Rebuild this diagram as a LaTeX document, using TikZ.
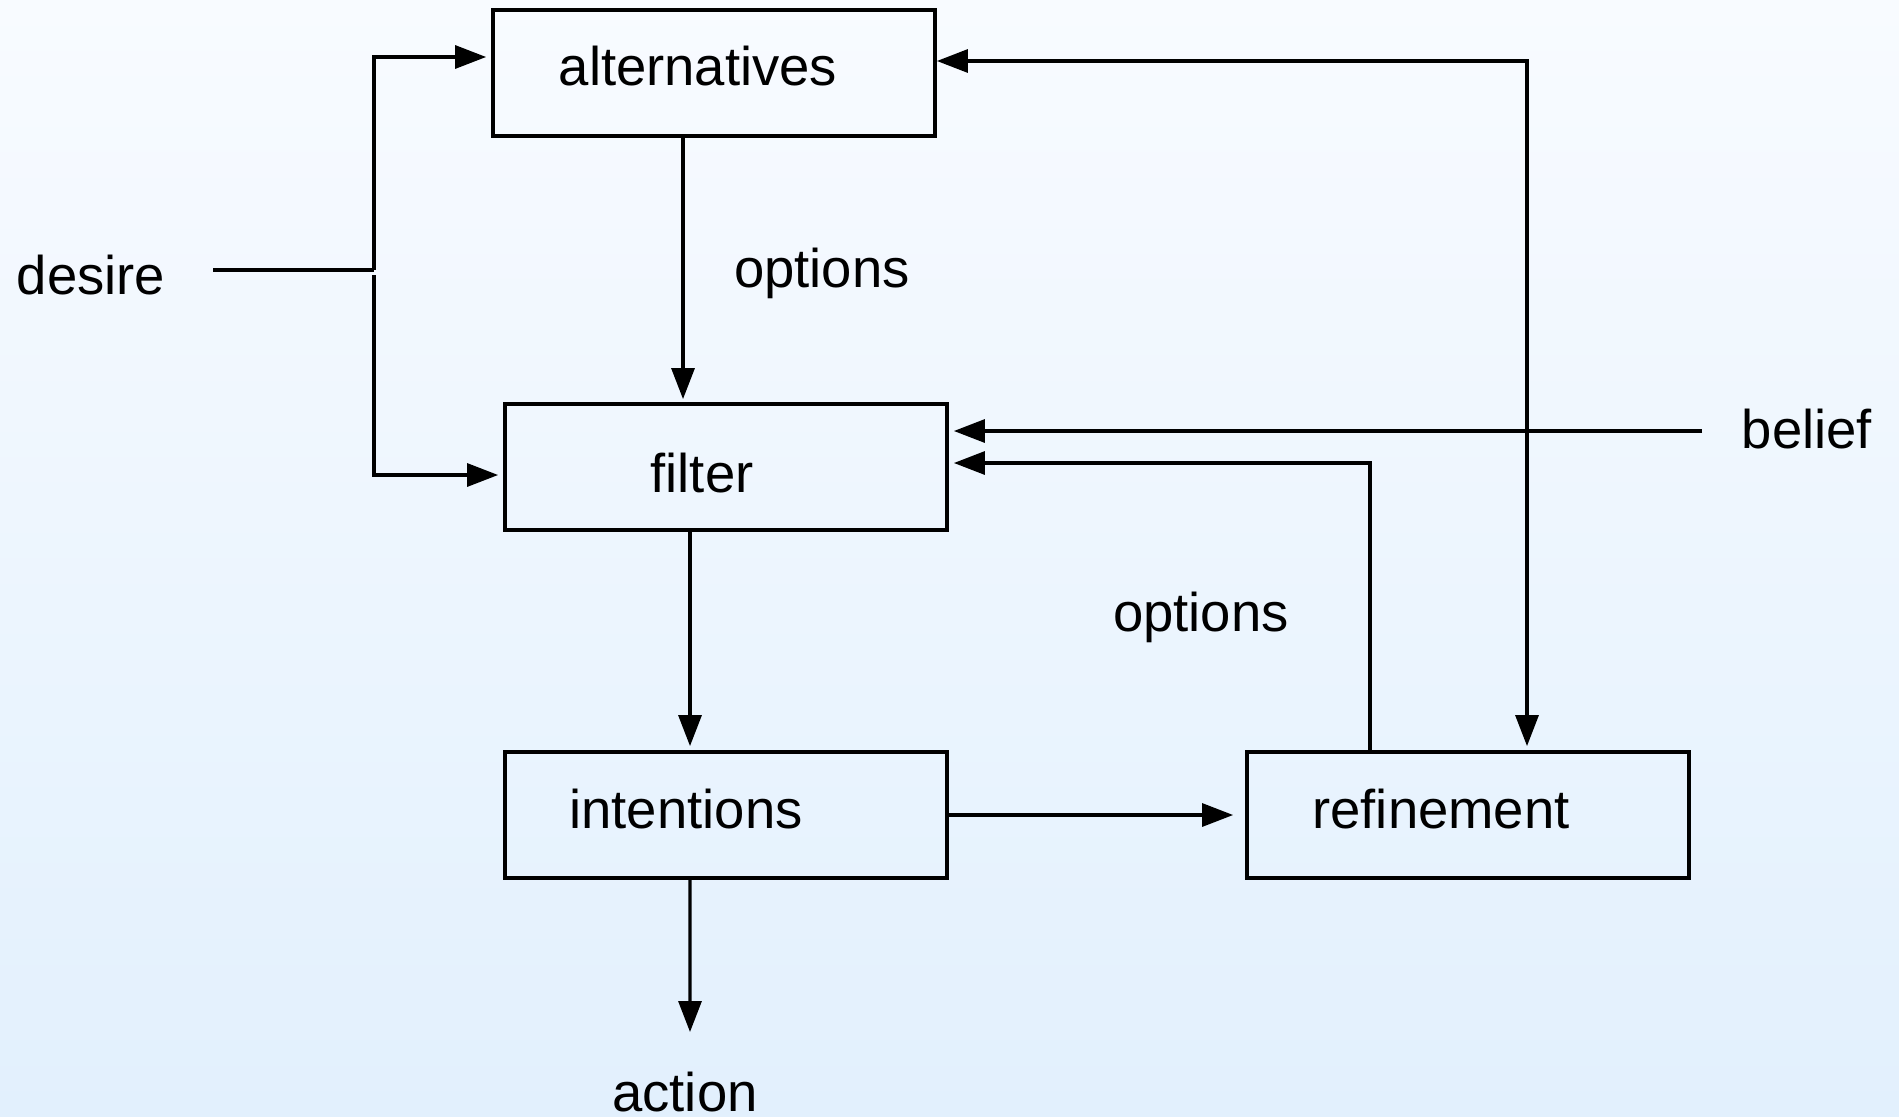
\documentclass[tikz,border=0pt]{standalone}
\usepackage{fontspec}
\setmainfont{Liberation Sans}
\usepackage{tikz}
\usetikzlibrary{arrows.meta}

\definecolor{bgtop}{RGB}{248,251,255}
\definecolor{bgbot}{RGB}{226,240,253}

\begin{document}
\begin{tikzpicture}[x=0.02cm, y=-0.02cm,
  box/.style={draw, line width=2.2pt, minimum width=8.84cm, minimum height=2.52cm, inner sep=0pt},
  word/.style={draw=none, anchor=base, inner sep=0pt, font=\fontsize{31}{37}\selectfont},
  arr/.style={line width=1.8pt, -{Triangle[length=0.62cm, width=0.46cm]}},
  wire/.style={line width=1.8pt}]
             \shade[top color=bgtop, bottom color=bgbot] (0,0) rectangle (1899,1116);
             \useasboundingbox (0,0) rectangle (1899,1116);

             % boxes
             \node[box] (alt) at (714, 73) {};
             \node[box] (filt) at (726, 467) {};
             \node[box] (intn) at (726, 815) {};
             \node[box] (refn) at (1468, 815) {};

             \node[word] (alttext) at (698, 85) {alternatives};
             \node[word] (filttext) at (702, 492) {filter};
             \node[word] (intntext) at (686, 828) {intentions};
             \node[word] (refntext) at (1441, 828) {refinement};

             % labels
             \node[word] (desire) at (91, 294) {desire};
             \node[word] (belief) at (1807, 448) {belief};
             \node[word] (action) at (685, 1111) {action};
             \node[word] (opt1) at (822, 287) {options};
             \node[word] (opt2) at (1201, 631) {options};

             \coordinate (dstart) at (213, 270);
             \coordinate (jn) at (374, 270);
             \coordinate (jt) at (374, 57);
             \coordinate (jb) at (374, 475);
             \coordinate (bstart) at (1702, 431);
             \coordinate (rf) at (1370, 463);
             \coordinate (rt) at (1527, 61);
             \coordinate (aend) at (690, 1032);

             % desire fans out
             \draw[wire] (dstart) -- (jn);
             \draw[arr, shorten >=0.1cm] (jn) -- (jt) -- (alt.west |- jt);
             \draw[arr, shorten >=0.1cm] ([yshift=-0.1cm]jn) -- (jb) -- (filt.west |- jb);

             % downward flow
             \draw[arr, shorten >=0.06cm] ([xshift=-0.62cm]alt.south) -- ([xshift=-0.62cm]alt.south |- filt.north);
             \draw[arr, shorten >=0.08cm] ([xshift=-0.72cm]filt.south) -- ([xshift=-0.72cm]filt.south |- intn.north);
             \draw[arr] ([xshift=-0.72cm]intn.south) -- (aend);
             \draw[arr, shorten >=0.24cm] (intn.east) -- (refn.west);

             % feedback
             \draw[arr, shorten >=0.1cm] (bstart) -- (filt.east |- bstart);
             \draw[arr, shorten >=0.1cm] (refn.north -| rf) -- (rf) -- (filt.east |- rf);
             \draw[line width=1.8pt, {Triangle[length=0.62cm, width=0.46cm]}-{Triangle[length=0.62cm, width=0.46cm]}, shorten >=0.08cm]
                  (alt.east |- rt) -- (rt) -- (refn.north -| rt);
             \end{tikzpicture}
\end{document}
